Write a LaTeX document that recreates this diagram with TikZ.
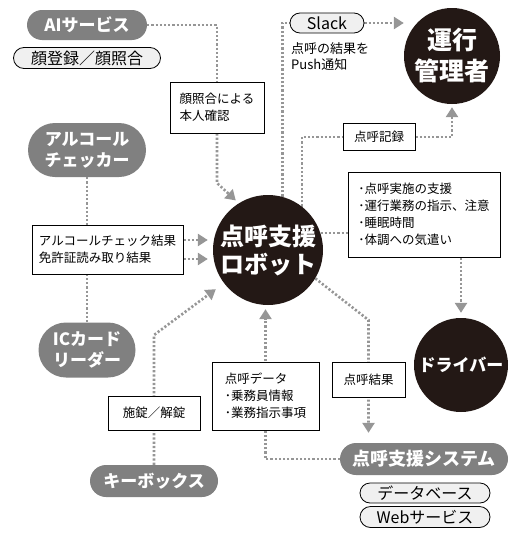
\documentclass[tikz,border=0pt]{standalone}
\usepackage{fontspec}
\setmainfont{Noto Sans CJK JP}
\usetikzlibrary{arrows.meta,backgrounds,shapes.misc}

\definecolor{pillgray}{RGB}{128,128,128}
\definecolor{inkblack}{RGB}{35,24,21}
\definecolor{dotgray}{RGB}{150,150,150}
\definecolor{tagfill}{RGB}{240,240,240}

\begin{document}
\begin{tikzpicture}[x=1pt,y=-1pt,>={Triangle[width=12pt,length=10pt]},
  actor/.style={circle, fill=inkblack, text=white, align=center, inner sep=0pt},
  pill/.style={rounded rectangle, fill=pillgray, text=white, align=center, inner sep=0pt,
    font=\bfseries\fontsize{17}{21}\selectfont},
  tag/.style={rounded rectangle, draw=black, line width=0.8pt, fill=tagfill, inner sep=0pt,
    minimum height=20pt, font=\fontsize{16}{18}\selectfont},
  note/.style={draw=black, line width=0.8pt, fill=white, align=left, inner sep=0pt,
    font=\fontsize{12.5}{17}\selectfont},
  flow/.style={draw=dotgray, line width=2.6pt, dash pattern=on 2.2pt off 2pt}]

  \useasboundingbox (0,0) rectangle (516,538);

  \node[actor, minimum size=110pt, font=\bfseries\fontsize{24}{28}\selectfont] (robot) at (268,250) {点呼支援\\ロボット};
  \node[actor, minimum size=96pt, font=\bfseries\fontsize{25}{31}\selectfont]  (mgr)   at (452,56)  {運行\\管理者};
  \node[actor, minimum size=94pt, font=\bfseries\fontsize{17}{20}\selectfont]  (drv)   at (461,365) {ドライバー};

  \node[pill, minimum width=120pt, minimum height=30pt] (ai)  at (87,25)  {AIサービス};
  \node[pill, minimum width=118pt, minimum height=54pt] (alc) at (87,150) {アルコール\\チェッカー};
  \node[pill, minimum width=97pt,  minimum height=55pt] (ic)  at (87,350) {ICカード\\リーダー};
  \node[pill, minimum width=128pt, minimum height=32pt] (key) at (154,481) {キーボックス};
  \node[pill, minimum width=168pt, minimum height=32pt, font=\bfseries\fontsize{18}{21}\selectfont] (sys) at (424,459) {点呼支援システム};

  \node[tag, minimum width=147pt, minimum height=21pt] (face)  at (87,58)   {顔登録／顔照合};
  \node[tag, minimum width=74pt]                      (slack) at (327,23)  {Slack};
  \node[tag, minimum width=130pt]                     (db)    at (425,493) {データベース};
  \node[tag, minimum width=130pt, minimum height=21pt] (web)  at (425,517) {Webサービス};

  \node[note, minimum width=94pt,  minimum height=51pt] (bface) at (217,107.5) {顔照合による\\本人確認};
  \node[note, minimum width=151pt, minimum height=49pt] (balc)  at (107.5,249.5) {アルコールチェック結果\\免許証読み取り結果};
  \node[note, minimum width=92pt,  minimum height=34pt] (bkey)  at (154,413) {施錠／解錠};
  \node[note, minimum width=107pt, minimum height=68pt] (bdata) at (265.5,396) {点呼データ\\･乗務員情報\\･業務指示事項};
  \node[note, minimum width=73pt,  minimum height=35pt] (bres)  at (368.5,379.5) {点呼結果};
  \node[note, minimum width=72pt,  minimum height=27pt] (brec)  at (379,137) {点呼記録};
  \node[note, minimum width=152pt, minimum height=85pt] (bsup)  at (424,214.5) {･点呼実施の支援\\･運行業務の指示、注意\\･睡眠時間\\･体調への気遣い};
  \node[align=left, anchor=north west, inner sep=0pt, font=\fontsize{13}{16}\selectfont] (push) at (291,42) {点呼の結果を\\Push通知};

  \begin{scope}[on background layer]
    \draw[flow] (ai.east) -| (bface.north);
    \draw[flow,->,shorten >=4pt] (bface.south) -- (bface.south |- 0,183) -- (robot.122);
    \draw[flow] (alc.south) -- (ic.north);
    \draw[flow,->,shorten >=5pt] ([yshift=9.5pt]balc.east) -- ([yshift=9.5pt]balc.east -| robot.west);
    \draw[flow,->,shorten >=5pt] ([yshift=-9.5pt]balc.east) -- ([yshift=-9.5pt]balc.east -| robot.west);
    \draw[flow,->,shorten >=10pt] (key.north) -- (key.north |- 0,335) -- (robot.217);
    \draw[flow,->,shorten >=4pt] (sys.west) -| (bdata.south) -- (bdata.north |- robot.south);
    \draw[flow,->,shorten >=10pt] (robot.-31) -- (bres.north |- 0,320) -- (bres.north |- sys.north);
    \draw[flow] (robot.18) -- (robot.18 -| bsup.west);
    \draw[flow,->,shorten >=5pt] (bsup.south -| drv.north) -- (drv.north);
    \draw[flow] (robot.75) |- (slack.west);
    \draw[flow,->] (slack.east) -- (slack.east -| mgr.west);
    \draw[flow] (robot.52) |- (brec.west);
    \draw[flow,->,shorten >=3pt] (brec.east) -| (mgr.south);
  \end{scope}
\end{tikzpicture}
\end{document}
